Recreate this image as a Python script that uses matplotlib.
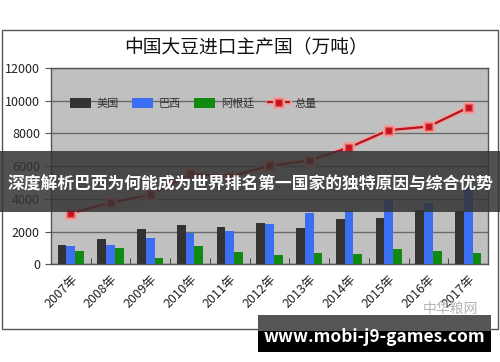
import matplotlib
matplotlib.use("Agg")
import matplotlib.pyplot as plt
import matplotlib.patheffects as pe
from matplotlib.patches import Rectangle
import numpy as np

plt.rcParams['font.family'] = ['Noto Sans CJK SC', 'DejaVu Sans']

# 数据（万吨）
years = ['2007年', '2008年', '2009年', '2010年', '2011年', '2012年',
         '2013年', '2014年', '2015年', '2016年', '2017年']
usa = [1180, 1550, 2180, 2390, 2260, 2510, 2220, 2750, 2820, 3320, 3280]
brazil = [1120, 1180, 1630, 1900, 2040, 2450, 3160, 3250, 3980, 3770, 4700]
argentina = [810, 980, 400, 1120, 770, 570, 710, 610, 940, 810, 670]
total = [3120, 3770, 4240, 5530, 5360, 6020, 6340, 7140, 8200, 8420, 9580]

W, H = 500, 362
fig = plt.figure(figsize=(W / 100, H / 100), dpi=100)
fig.patch.set_facecolor('white')

def fx(px):
    return px / W

def fy(py):
    return 1 - py / H

# 外框
fig.patches.append(Rectangle((fx(2), fy(329)), fx(496), 299 / H, transform=fig.transFigure,
                             fill=False, edgecolor='#555555', linewidth=1, zorder=0))

ax = fig.add_axes([fx(51), fy(264.3), fx(437), (264.3 - 68) / H])
ax.set_facecolor('#c0c0c0')

x = np.arange(len(years))
bw = 0.22
b1 = ax.bar(x - bw, usa, bw, color='#333333', label='美国', zorder=3)
b2 = ax.bar(x, brazil, bw, color='#3b6ef0', label='巴西', zorder=3)
b3 = ax.bar(x + bw, argentina, bw, color='#128a12', label='阿根廷', zorder=3)
ln, = ax.plot(x, total, color='#b8141c', linewidth=1.6, marker='s', markersize=5,
              markerfacecolor='#c8101c', markeredgecolor='#e05a5a', label='总量', zorder=4,
              path_effects=[pe.Stroke(linewidth=3.5, foreground='#f0a0a0'), pe.Normal()])

ax.set_xlim(-0.5, len(years) - 0.5)
ax.set_ylim(0, 12000)
ax.set_yticks(range(0, 12001, 2000))
ax.yaxis.grid(True, color='#6a6a6a', linewidth=1, zorder=1)
ax.set_axisbelow(True)
ax.tick_params(axis='y', labelsize=9, length=4, color='#555555', labelcolor='#222222', pad=4)

ax.set_xticks(x)
ax.set_xticklabels(years, rotation=45, ha='right', rotation_mode='anchor', fontsize=9,
                   color='#222222')
ax.tick_params(axis='x', length=0, pad=6)
ax.set_xticks(np.arange(-0.5, len(years) - 0.4, 1), minor=True)
ax.tick_params(axis='x', which='minor', direction='in', length=4, color='#333333')

for s in ax.spines.values():
    s.set_color('#555555')
    s.set_linewidth(1)

ax.legend([b1, b2, b3, ln], ['美国', '巴西', '阿根廷', '总量'],
          loc='upper left', bbox_to_anchor=(0.02, 0.9), ncol=4, frameon=False,
          fontsize=8, handlelength=1.9, handleheight=1.1, handletextpad=0.5,
          columnspacing=1.2, labelcolor='#333333', numpoints=1)

fig.text(0.492, fy(48), '中国大豆进口主产国（万吨）', ha='center', va='center',
         fontsize=13.5, color='#111111')

# 中华粮网水印
fig.text(fx(450), fy(309), '中华粮网', ha='center', va='center', fontsize=10,
         color='#b4b4b4')

# 标题横幅
fig.patches.append(Rectangle((0, fy(212)), 1, 61 / H, transform=fig.transFigure,
                             facecolor='#333333', alpha=0.85, edgecolor='none', zorder=10))
fig.text(0.5, fy(185), '深度解析巴西为何能成为世界排名第一国家的独特原因与综合优势',
         ha='center', va='center', fontsize=12.1, fontweight='bold', color='white', zorder=11)

# 底部网址
fig.patches.append(Rectangle((fx(258), fy(331)), fx(233), 16 / H, transform=fig.transFigure,
                             facecolor='#555555', edgecolor='none', zorder=10))
fig.patches.append(Rectangle((fx(258), fy(352)), fx(233), 21 / H, transform=fig.transFigure,
                             facecolor='#000000', edgecolor='none', zorder=10))
fig.text(fx(374), fy(337), 'www.mobi-j9-games.com', ha='center', va='center',
         fontsize=12.5, fontweight='bold', color='white', zorder=11)

fig.savefig('out.png', dpi=100)
